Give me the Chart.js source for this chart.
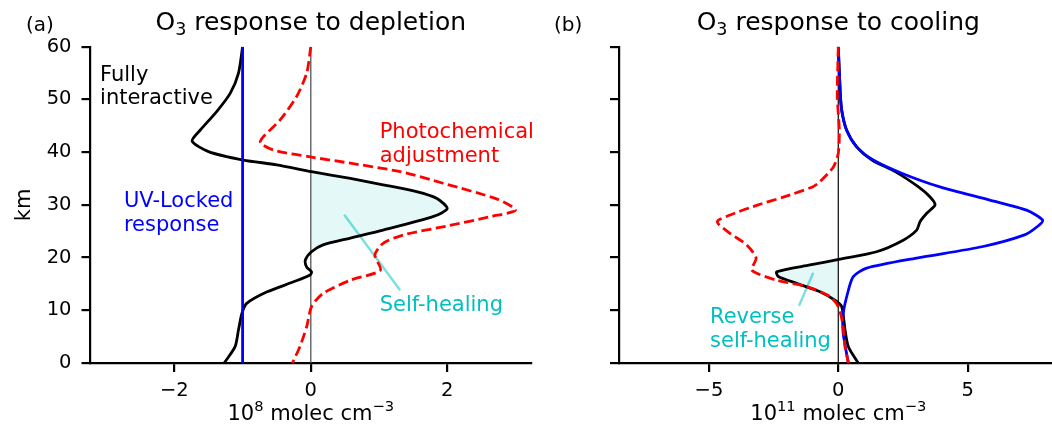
<!DOCTYPE html>
<html>
<head>
<meta charset="utf-8">
<script src="https://cdn.jsdelivr.net/npm/chart.js@4.4.0/dist/chart.umd.min.js"></script>
<style>
  html, body { margin: 0; padding: 0; background: #fff; overflow: hidden; }
  body { width: 1052px; height: 424px; position: relative; }
  canvas { position: absolute; top: 0; }
  #chartA { left: 0; }
  #chartB { left: 540px; }
</style>
</head>
<body>
<canvas id="chartA" width="540" height="424"></canvas>
<canvas id="chartB" width="520" height="424"></canvas>
<script>
// (a) O3 response to depletion, 10^8 molec cm^-3
const kmAFull = [60, 55.0, 51.2, 47.7, 44.2, 42.1, 40.1, 38.5, 37.6, 36.3, 35.0, 33.8, 32.5, 31.2, 29.3, 27.8, 25.2, 23.7, 22.4, 21.1, 19.5, 18.2, 17.3, 16.7, 15.4, 13.5, 11.3, 9.4, 6.3, 3.1, 0];
const depFull = [-1.0, -1.06, -1.18, -1.38, -1.62, -1.74, -1.50, -0.99, -0.50, 0.01, 0.58, 1.06, 1.55, 1.85, 2.0, 1.80, 1.06, 0.58, 0.18, 0.01, -0.08, -0.06, 0.01, -0.01, -0.25, -0.64, -0.94, -1.01, -1.06, -1.11, -1.27];
const kmAPhoto = [60, 55, 50.5, 46.1, 42.0, 40.4, 39.1, 37.9, 36.3, 34.1, 31.0, 29.0, 27.8, 26.0, 24.3, 22.7, 20.5, 17.6, 15.7, 13.2, 10.7, 6.9, 3.1, 0];
const depPhoto = [0, -0.06, -0.21, -0.45, -0.74, -0.55, -0.01, 0.58, 1.31, 1.94, 2.75, 3.0, 2.65, 2.0, 1.36, 1.06, 0.94, 1.02, 0.58, 0.18, 0.01, -0.06, -0.16, -0.27];
const kmAUV = [60, 0];
const depUV = [-1.0, -1.0];

// (b) O3 response to cooling, 10^11 molec cm^-3
const kmBFull = [60, 51.8, 48.0, 44.2, 41.0, 38.5, 36.3, 33.4, 31.5, 30.0, 28.4, 26.8, 25.2, 23.3, 21.1, 19.7, 18.6, 17.3, 16.4, 15.1, 13.5, 11.9, 10.7, 6.3, 3.1, 0];
const coolFull = [0, 0.07, 0.13, 0.32, 0.71, 1.3, 2.2, 3.1, 3.55, 3.74, 3.42, 3.16, 3.03, 2.51, 1.48, 0.07, -1.09, -2.38, -2.32, -1.61, -0.71, -0.13, 0.13, 0.26, 0.39, 0.77];
const kmBPhoto = [60, 50.5, 44.2, 39.8, 37.2, 34.4, 33.4, 31.5, 30.0, 28.4, 26.8, 24.6, 22.4, 19.9, 17.6, 15.7, 14.5, 12.6, 10.7, 7.5, 3.1, 0];
const coolPhoto = [0, -0.04, 0.04, 0, -0.19, -0.71, -1.0, -2.1, -3.1, -4.0, -4.68, -4.19, -3.54, -3.18, -3.34, -2.38, -1.22, -0.32, 0, 0.17, 0.26, 0.39];
const kmBUV = [60, 51.8, 48.0, 44.2, 41.0, 38.5, 36.0, 33.4, 30.9, 29.0, 27.1, 25.9, 24.3, 22.1, 19.9, 18.0, 16.4, 13.8, 9.4, 5.6, 0];
const coolUV = [0, 0.07, 0.13, 0.32, 0.71, 1.35, 2.45, 3.93, 5.86, 7.28, 7.9, 7.7, 7.2, 5.6, 3.03, 1.10, 0.58, 0.39, 0.19, 0.19, 0.39];

const yTicks = [0, 10, 20, 30, 40, 50, 60];
const xTicksA = [-2, 0, 2];
const xTicksB = [-5, 0, 5];

const FONT = 'DejaVu Sans';
const CYAN = '#00bfbf';
Chart.defaults.font.family = FONT;

const pts = (vals, km) => vals.map((v, i) => ({ x: v, y: km[i] }));
const fmt = v => (v < 0 ? '\u2212' + Math.abs(v) : String(v));

function drawRich(ctx, parts, x, y, align) {
  let w = 0;
  parts.forEach(p => {
    ctx.font = p.size + 'px "' + FONT + '"';
    p.w = ctx.measureText(p.t).width;
    w += p.w;
  });
  let cx = align === 'center' ? x - w / 2 : x;
  parts.forEach(p => {
    ctx.font = p.size + 'px "' + FONT + '"';
    ctx.fillText(p.t, cx, y + (p.dy || 0));
    cx += p.w;
  });
}

const panelText = {
  id: 'panelText',
  afterDraw(chart, args, o) {
    const { ctx, chartArea, scales: { x, y } } = chart;
    const mid = (chartArea.left + chartArea.right) / 2;
    ctx.save();
    ctx.fillStyle = '#000';
    ctx.textAlign = 'left';
    ctx.textBaseline = 'alphabetic';
    ctx.font = '20px "' + FONT + '"';
    ctx.fillText(o.letter, o.letterX, 30.5);
    drawRich(ctx, [
      { t: 'O', size: 25 }, { t: '3', size: 17.5, dy: 5 }, { t: o.title, size: 25 }
    ], mid, 30, 'center');
    drawRich(ctx, [
      { t: '10', size: 21 }, { t: o.exp, size: 14.7, dy: -9 },
      { t: ' molec cm', size: 21 }, { t: '\u22123', size: 14.7, dy: -9 }
    ], mid, 419.5, 'center');
    if (o.yTitle) {
      ctx.save();
      ctx.translate(30, (chartArea.top + chartArea.bottom) / 2);
      ctx.rotate(-Math.PI / 2);
      ctx.textAlign = 'center';
      ctx.font = '21px "' + FONT + '"';
      ctx.fillText(o.yTitle, 0, 0);
      ctx.restore();
    }
    ctx.font = '21px "' + FONT + '"';
    o.labels.forEach(l => {
      ctx.fillStyle = l.color;
      ctx.fillText(l.text, x.getPixelForValue(l.x), y.getPixelForValue(l.y));
    });
    ctx.restore();
  }
};

function axis(extra) {
  return Object.assign({
    type: 'linear',
    grid: { drawOnChartArea: false, tickLength: 9, lineWidth: 2.2, color: '#000' },
    border: { color: '#000', width: 2.2 },
  }, extra);
}

function makePanel(id, p) {
  new Chart(document.getElementById(id), {
    type: 'line',
    data: {
      datasets: [
        { data: pts(p.photo, p.kmPhoto), borderColor: '#ff0000', borderDash: [10, 4.5], borderWidth: 2.8 },
        { data: pts(p.uv, p.kmUV), borderColor: '#0000ff', borderWidth: 2.8 },
        { data: pts(p.full, p.kmFull), borderColor: '#000000', borderWidth: 2.8 },
        { data: p.leader, borderColor: 'rgba(0,191,191,0.5)', borderWidth: 2.5, tension: 0 },
        { data: [{ x: 0, y: 0 }, { x: 0, y: 60 }], borderColor: p.zeroColor, borderWidth: 1.3, tension: 0 },
        { data: pts(p.full.map(p.clip), p.kmFull), borderColor: 'transparent', borderWidth: 0,
          backgroundColor: 'rgba(0,191,191,0.1)', fill: 'origin' }
      ]
    },
    options: {
      indexAxis: 'y',
      responsive: false,
      animation: false,
      events: [],
      layout: { padding: { left: 0, right: p.padRight, top: 46.7, bottom: 0 } },
      elements: { point: { radius: 0 }, line: { tension: 0.25, fill: false } },
      plugins: {
        legend: { display: false },
        tooltip: { enabled: false },
        panelText: p.text
      },
      scales: {
        x: axis({
          min: -p.xMax, max: p.xMax,
          afterBuildTicks: s => { s.ticks = p.xTicks.map(v => ({ value: v })); },
          afterFit: s => { s.height = 424 - 363; },
          ticks: { color: '#000', font: { size: 19.5 }, padding: 7, maxRotation: 0, callback: fmt }
        }),
        y: axis({
          min: 0, max: 60,
          afterBuildTicks: s => { s.ticks = yTicks.map(v => ({ value: v })); },
          afterFit: s => { s.width = p.yWidth; },
          ticks: { color: '#000', font: { size: 19.5 }, padding: 10,
                   callback: v => (p.yLabels ? String(v) : '') }
        })
      }
    },
    plugins: [panelText]
  });
}

makePanel('chartA', {
  full: depFull, kmFull: kmAFull, photo: depPhoto, kmPhoto: kmAPhoto, uv: depUV, kmUV: kmAUV,
  clip: v => Math.max(v, 0),
  leader: [{ x: 0.49, y: 28.1 }, { x: 1.31, y: 13.8 }],
  zeroColor: '#555555',
  xMax: 3.23, xTicks: xTicksA, yWidth: 90.5, padRight: 8.9, yLabels: true,
  text: {
    letter: '(a)', letterX: 26, title: ' response to depletion', exp: '8', yTitle: 'km',
    labels: [
      { text: 'Fully', x: -3.09, y: 53.5, color: '#000' },
      { text: 'interactive', x: -3.09, y: 49.1, color: '#000' },
      { text: 'UV-Locked', x: -2.74, y: 29.5, color: '#0000ff' },
      { text: 'response', x: -2.74, y: 25.1, color: '#0000ff' },
      { text: 'Photochemical', x: 1.01, y: 42.6, color: '#ff0000' },
      { text: 'adjustment', x: 1.01, y: 38.2, color: '#ff0000' },
      { text: 'Self-healing', x: 1.01, y: 9.9, color: CYAN }
    ]
  }
});

makePanel('chartB', {
  full: coolFull, kmFull: kmBFull, photo: coolPhoto, kmPhoto: kmBPhoto, uv: coolUV, kmUV: kmBUV,
  clip: v => Math.min(v, 0),
  leader: [{ x: -0.97, y: 17.1 }, { x: -1.52, y: 10.8 }],
  zeroColor: '#1a1a1a',
  xMax: 8.48, xTicks: xTicksB, yWidth: 79, padRight: 2.4, yLabels: false,
  text: {
    letter: '(b)', letterX: 14, title: ' response to cooling', exp: '11', yTitle: null,
    labels: [
      { text: 'Reverse', x: -4.96, y: 7.5, color: CYAN },
      { text: 'self-healing', x: -4.96, y: 3.0, color: CYAN }
    ]
  }
});
</script>
</body>
</html>
